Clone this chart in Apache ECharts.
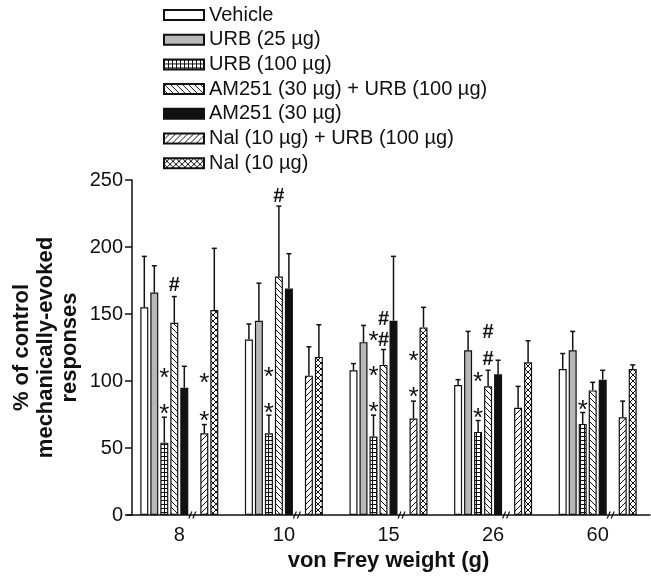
<!DOCTYPE html>
<html>
<head>
<meta charset="utf-8">
<script src="https://cdn.jsdelivr.net/npm/echarts@6/dist/echarts.min.js"></script>
<style>
html, body { margin: 0; padding: 0; background: #fff; }
#main { width: 651px; height: 578px; }
</style>
</head>
<body>
<div id="main"></div>
<script>
// von Frey weights (g)
const weights = ['8', '10', '15', '26', '60'];
const groupNames = ['Vehicle', 'URB (25 µg)', 'URB (100 µg)', 'AM251 (30 µg) + URB (100 µg)',
    'AM251 (30 µg)', 'Nal (10 µg) + URB (100 µg)', 'Nal (10 µg)'];

// mean % of control per weight
const vehicle = [155, 131, 108, 97, 109];
const urb25 = [166, 145, 129, 123, 123];
const urb100 = [54, 61, 58.5, 62, 68];
const amUrb = [143.5, 178, 112, 96, 93];
const am251 = [95, 169, 145, 105, 101];
const nalUrb = [61, 104, 72, 80, 73];
const nal = [153, 118, 140, 114, 109];

// top of the error bar (mean + SEM)
const vehicleErr = [193, 142.5, 113, 101, 120.5];
const urb25Err = [186, 173, 141.5, 137, 137];
const urb100Err = [73, 74.5, 74.5, 70.5, 76.5];
const amUrbErr = [163, 230.5, 123.5, 108, 99];
const am251Err = [111, 195, 193, 115.5, 108];
const nalUrbErr = [67.5, 125.5, 85, 96, 85];
const nalErr = [199, 142, 155, 130, 112];

// significance marks: [weight index, bar slot, height, symbol]
const marks = [
    [0, 3, 171.5, '#'], [0, 2, 106, '*'], [0, 2, 79, '*'], [0, 6, 102, '*'], [0, 6, 74, '*'],
    [1, 3, 237.5, '#'], [1, 2, 107, '*'], [1, 2, 80, '*'],
    [2, 2, 134, '*'], [2, 2, 107.5, '*'], [2, 2, 80.5, '*'], [2, 3, 146, '#'], [2, 3, 130.5, '#'],
    [2, 6, 118.5, '*'], [2, 6, 92, '*'],
    [3, 2, 76.5, '*'], [3, 2, 103, '*'], [3, 3, 116, '#'], [3, 3, 136, '#'],
    [4, 2, 82.5, '*']
];

const BAR_W = 8;
const PITCH = 10;   // bar width + gap
const INK = '#111';
const FONT = "'Liberation Sans', Arial, sans-serif";

// hatch fills
function makePattern(kind) {
    const s = kind === 'grid' ? 4 : 6;
    const c = document.createElement('canvas');
    c.width = s; c.height = s;
    const ctx = c.getContext('2d');
    ctx.fillStyle = '#fff';
    ctx.fillRect(0, 0, s, s);
    ctx.strokeStyle = INK;
    ctx.lineWidth = 1;
    ctx.beginPath();
    if (kind === 'grid') {
        ctx.moveTo(0, 0.5); ctx.lineTo(s, 0.5);
        ctx.moveTo(0.5, 0); ctx.lineTo(0.5, s);
    }
    if (kind === 'back' || kind === 'cross') {
        for (let k = -s; k <= s; k += s) { ctx.moveTo(k, 0); ctx.lineTo(k + s, s); }
    }
    if (kind === 'fwd' || kind === 'cross') {
        for (let k = -s; k <= s; k += s) { ctx.moveTo(k, s); ctx.lineTo(k + s, 0); }
    }
    ctx.stroke();
    return { image: c, repeat: 'repeat' };
}

const fills = ['#fff', '#b8b8b8', makePattern('grid'), makePattern('back'), INK, makePattern('fwd'), makePattern('cross')];
const means = [vehicle, urb25, urb100, amUrb, am251, nalUrb, nal];
const tops = [vehicleErr, urb25Err, urb100Err, amUrbErr, am251Err, nalUrbErr, nalErr];
const slots = [0, 1, 2, 3, 4, 6, 7];   // slot 5 is the gap at the axis break

const series = [];
groupNames.forEach((name, i) => {
    series.push({
        name: name,
        type: 'bar',
        barWidth: BAR_W,
        barGap: '25%',
        data: means[i],
        itemStyle: { color: fills[i], borderColor: INK, borderWidth: 1.2 }
    });
    if (i === 4) {
        // empty spacer series keeps room for the "//" break
        series.push({ name: 'gap', type: 'bar', barWidth: BAR_W, barGap: '25%', data: weights.map(() => '-') });
    }
});

const errData = [];
means.forEach((m, i) => {
    m.forEach((v, w) => errData.push([w, slots[i], v, tops[i][w]]));
});

series.push({
    type: 'custom',
    name: 'sem',
    silent: true,
    z: 3,
    encode: { x: 0, y: [2, 3] },
    data: errData,
    renderItem: function (params, api) {
        const slot = api.value(1);
        const base = api.coord([api.value(0), api.value(2)]);
        const top = api.coord([api.value(0), api.value(3)]);
        const x = base[0] + (slot - 3.5) * PITCH;
        return {
            type: 'group',
            children: [
                { type: 'line', shape: { x1: x, y1: base[1], x2: x, y2: top[1] }, style: { stroke: INK, lineWidth: 1.5 } },
                { type: 'line', shape: { x1: x - 2.5, y1: top[1], x2: x + 2.5, y2: top[1] }, style: { stroke: INK, lineWidth: 1.5 } }
            ]
        };
    }
});

series.push({
    type: 'custom',
    name: 'marks',
    silent: true,
    z: 4,
    encode: { x: 0, y: 2 },
    data: marks.map(m => [m[0], m[1], m[2]]),
    renderItem: function (params, api) {
        const sym = marks[params.dataIndex][3];
        const p = api.coord([api.value(0), api.value(2)]);
        const x = p[0] + (api.value(1) - 3.5) * PITCH;
        const star = sym === '*';
        return {
            type: 'text',
            x: x,
            y: p[1] + (star ? 6 : 0),
            style: {
                text: sym,
                font: (star ? '26px ' : 'bold 20px ') + FONT,
                fill: INK, align: 'center', verticalAlign: 'middle'
            }
        };
    }
});

// axis break marks
series.push({
    type: 'custom',
    name: 'break',
    silent: true,
    z: 5,
    data: weights.map((w, i) => [i, 0]),
    renderItem: function (params, api) {
        const p = api.coord([api.value(0), 0]);
        const x = p[0] + 1.5 * PITCH - 1.5;
        const y = p[1];
        return {
            type: 'group',
            children: [
                { type: 'line', shape: { x1: x - 4, y1: y + 3.5, x2: x - 1, y2: y - 3.5 }, style: { stroke: INK, lineWidth: 1.2 } },
                { type: 'line', shape: { x1: x, y1: y + 3.5, x2: x + 3, y2: y - 3.5 }, style: { stroke: INK, lineWidth: 1.2 } }
            ]
        };
    }
});

const chart = echarts.init(document.getElementById('main'));
chart.setOption({
    animation: false,
    backgroundColor: '#fff',
    textStyle: { fontFamily: FONT },
    grid: { left: 127, right: 1, top: 180, bottom: 63, outerBoundsMode: 'none' },
    legend: {
        orient: 'vertical',
        left: 158,
        top: 0,
        icon: 'rect',
        itemWidth: 40,
        itemHeight: 10,
        itemGap: 4.7,
        textStyle: { fontFamily: FONT, fontSize: 20, lineHeight: 20, color: INK },
        data: groupNames
    },
    xAxis: {
        type: 'category',
        data: weights,
        axisLine: { lineStyle: { color: INK, width: 1.5 } },
        axisTick: { show: false },
        axisLabel: { fontSize: 20, color: INK, margin: 10 },
        name: 'von Frey weight (g)',
        nameLocation: 'middle',
        nameGap: 34,
        nameTextStyle: { fontSize: 22, fontWeight: 'bold', color: INK }
    },
    yAxis: {
        type: 'value',
        min: 0,
        max: 250,
        interval: 50,
        offset: -5,
        axisLine: { show: true, lineStyle: { color: INK, width: 1.5 } },
        axisTick: { show: true, length: 7, lineStyle: { color: INK, width: 1.5 } },
        axisLabel: { fontSize: 20, color: INK, margin: 9 },
        splitLine: { show: false },
        name: '% of control\nmechanically-evoked\nresponses',
        nameLocation: 'middle',
        nameGap: 50,
        nameMoveOverlap: false,
        nameTextStyle: { fontSize: 22, fontWeight: 'bold', lineHeight: 24, color: INK }
    },
    series: series
});
</script>
</body>
</html>
